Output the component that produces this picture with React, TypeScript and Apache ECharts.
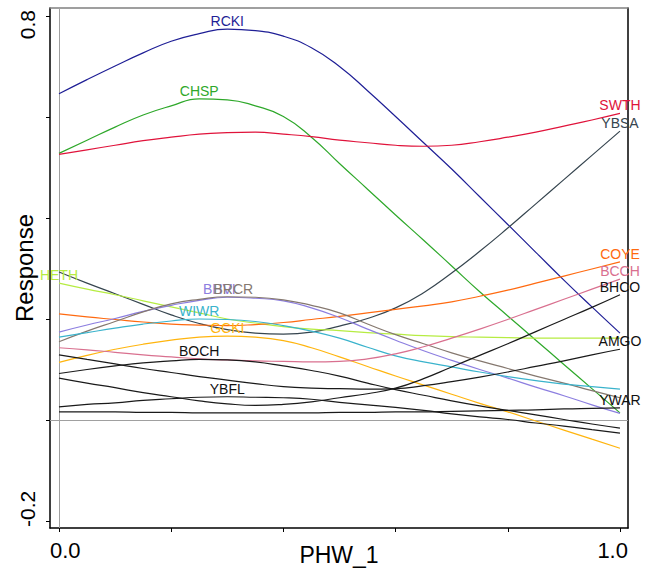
import { useEffect, useRef } from "react";
import * as echarts from "echarts";

// PHW_1 positions at which each response curve is sampled
const phw = [0, 0.05, 0.1, 0.15, 0.2, 0.25, 0.3, 0.35, 0.4, 0.45, 0.5, 0.55, 0.6, 0.65, 0.7, 0.75, 0.8, 0.85, 0.9, 0.95, 1.0];

// Response curves per species
const RCKI = [0.646, 0.674, 0.701, 0.727, 0.75, 0.765, 0.774, 0.771, 0.76, 0.737, 0.7, 0.652, 0.601, 0.549, 0.497, 0.442, 0.387, 0.332, 0.277, 0.224, 0.172];
const CHSP = [0.528, 0.554, 0.58, 0.604, 0.622, 0.636, 0.634, 0.622, 0.601, 0.56, 0.508, 0.457, 0.406, 0.356, 0.305, 0.254, 0.206, 0.158, 0.11, 0.062, 0.014];
const SWTH = [0.526, 0.535, 0.544, 0.553, 0.56, 0.566, 0.569, 0.57, 0.566, 0.561, 0.554, 0.549, 0.544, 0.542, 0.544, 0.551, 0.56, 0.57, 0.582, 0.594, 0.607];
const YBSA = [0.293, 0.271, 0.25, 0.229, 0.208, 0.191, 0.179, 0.172, 0.17, 0.174, 0.186, 0.201, 0.222, 0.252, 0.291, 0.334, 0.38, 0.428, 0.476, 0.524, 0.572];
const HETH = [0.271, 0.259, 0.248, 0.236, 0.224, 0.212, 0.2, 0.192, 0.185, 0.18, 0.177, 0.173, 0.17, 0.167, 0.165, 0.164, 0.163, 0.162, 0.162, 0.162, 0.162];
const COYE = [0.21, 0.204, 0.199, 0.194, 0.19, 0.188, 0.187, 0.189, 0.193, 0.199, 0.205, 0.212, 0.219, 0.226, 0.234, 0.245, 0.257, 0.271, 0.285, 0.299, 0.313];
const BHVI = [0.174, 0.188, 0.201, 0.215, 0.227, 0.237, 0.243, 0.241, 0.236, 0.222, 0.203, 0.18, 0.158, 0.137, 0.118, 0.1, 0.083, 0.065, 0.048, 0.03, 0.013];
const BRCR = [0.155, 0.176, 0.195, 0.214, 0.23, 0.239, 0.244, 0.243, 0.238, 0.227, 0.212, 0.19, 0.169, 0.151, 0.133, 0.117, 0.102, 0.087, 0.073, 0.058, 0.044];
const WIWR = [0.164, 0.173, 0.182, 0.19, 0.196, 0.2, 0.199, 0.195, 0.187, 0.176, 0.162, 0.144, 0.127, 0.115, 0.105, 0.095, 0.086, 0.078, 0.071, 0.066, 0.061];
const GCKI = [0.114, 0.128, 0.14, 0.15, 0.158, 0.164, 0.166, 0.164, 0.157, 0.143, 0.125, 0.106, 0.087, 0.069, 0.051, 0.033, 0.016, -0.002, -0.02, -0.038, -0.056];
const BCCH = [0.143, 0.139, 0.134, 0.129, 0.125, 0.121, 0.119, 0.117, 0.116, 0.115, 0.116, 0.121, 0.131, 0.145, 0.162, 0.18, 0.199, 0.219, 0.239, 0.259, 0.279];
const BOCH = [0.092, 0.1, 0.107, 0.113, 0.117, 0.12, 0.119, 0.115, 0.107, 0.098, 0.087, 0.073, 0.06, 0.049, 0.038, 0.028, 0.019, 0.01, 0.001, -0.008, -0.016];
const AMGO = [0.129, 0.12, 0.111, 0.102, 0.094, 0.086, 0.079, 0.072, 0.066, 0.063, 0.062, 0.061, 0.062, 0.068, 0.076, 0.085, 0.095, 0.106, 0.117, 0.129, 0.14];
const BHCO = [0.083, 0.073, 0.064, 0.054, 0.046, 0.038, 0.032, 0.029, 0.031, 0.036, 0.044, 0.052, 0.063, 0.082, 0.105, 0.128, 0.151, 0.175, 0.199, 0.223, 0.248];
const YBFL = [0.026, 0.031, 0.034, 0.039, 0.042, 0.045, 0.046, 0.045, 0.044, 0.041, 0.035, 0.03, 0.025, 0.019, 0.012, 0.006, 0.001, -0.006, -0.012, -0.019, -0.026];
const YWAR = [0.016, 0.016, 0.016, 0.015, 0.015, 0.014, 0.014, 0.014, 0.014, 0.014, 0.015, 0.015, 0.016, 0.016, 0.017, 0.018, 0.019, 0.02, 0.022, 0.023, 0.024];

// Axis ticks and labelled values
const xTicks = [0, 0.2, 0.4, 0.6, 0.8, 1.0];
const xTickLabels = [0, 1.0];
const yTicks = [-0.2, 0, 0.2, 0.4, 0.6, 0.8];
const yTickLabels = [-0.2, 0.8];

const species = [
  { name: "RCKI", values: RCKI, color: "#1f1f96", label: "#1f1f96" },
  { name: "CHSP", values: CHSP, color: "#2ea82a", label: "#2ea82a" },
  { name: "SWTH", values: SWTH, color: "#e0133b", label: "#e0133b" },
  { name: "YBSA", values: YBSA, color: "#36454f", label: "#36454f" },
  { name: "HETH", values: HETH, color: "#b6ec42", label: "#b6ec42" },
  { name: "COYE", values: COYE, color: "#ff6a10", label: "#ff6a10" },
  { name: "BHVI", values: BHVI, color: "#8c7ee0", label: "#8c7ee0", dx: -8 },
  { name: "BRCR", values: BRCR, color: "#85786f", label: "#85786f", dx: 6 },
  { name: "WIWR", values: WIWR, color: "#3ab3cc", label: "#3ab3cc" },
  { name: "GCKI", values: GCKI, color: "#ffb50f", label: "#ffb50f" },
  { name: "BCCH", values: BCCH, color: "#d9708f", label: "#d9708f" },
  { name: "BOCH", values: BOCH, color: "#1a1a1a", label: "#111111" },
  { name: "AMGO", values: AMGO, color: "#1a1a1a", label: "#111111" },
  { name: "BHCO", values: BHCO, color: "#1a1a1a", label: "#111111" },
  { name: "YBFL", values: YBFL, color: "#1a1a1a", label: "#111111" },
  { name: "YWAR", values: YWAR, color: "#1a1a1a", label: "#111111" },
];

const FONT = "'Liberation Sans', Arial, Helvetica, sans-serif";
const X_MIN = -0.016;
const X_MAX = 1.0143;
const Y_MIN = -0.2139;
const Y_MAX = 0.8158;

export default function App() {
  const ref = useRef<HTMLDivElement>(null);

  useEffect(() => {
    document.body.style.margin = "0";
    if (!ref.current) return;
    const chart = echarts.init(ref.current, undefined, { renderer: "svg" });

    const series: any[] = species.map((s, idx) => ({
      type: "line",
      name: s.name,
      data: phw.map((x, i) => [x, s.values[i]]),
      smooth: 0.5,
      symbol: "none",
      lineStyle: { color: s.color, width: 1.2 },
      itemStyle: { color: s.color },
      z: 3,
      markPoint: {
        silent: true,
        symbol: "circle",
        symbolSize: 0,
        data: [{ type: "max", name: s.name }],
        label: {
          show: true,
          formatter: s.name,
          position: "top",
          distance: 1,
          offset: [s.dx ?? 0, 0],
          color: s.label,
          fontSize: 14,
          fontFamily: FONT,
        },
      },
      ...(idx === 0
        ? {
            markLine: {
              silent: true,
              symbol: "none",
              label: { show: false },
              lineStyle: { color: "#a0a0a0", width: 1, type: "solid" },
              data: [{ xAxis: 0 }, { yAxis: 0 }],
              z: 1,
            },
          }
        : {}),
    }));

    chart.setOption({
      animation: false,
      backgroundColor: "#ffffff",
      grid: {
        left: 50,
        top: 8,
        width: 578,
        height: 520,
        containLabel: false,
        outerBoundsMode: "none",
      },
      xAxis: [
        {
          type: "value",
          position: "bottom",
          min: X_MIN,
          max: X_MAX,
          axisLine: { show: true, onZero: false, lineStyle: { color: "#000", width: 1.5 } },
          axisTick: { show: true, customValues: xTicks, length: 4, lineStyle: { color: "#000" } },
          axisLabel: {
            customValues: xTickLabels,
            formatter: (v: number) => v.toFixed(1),
            alignMinLabel: "left",
            alignMaxLabel: "right",
            padding: [0, -8, 0, -9],
            fontSize: 22,
            color: "#000",
            margin: 11,
            fontFamily: FONT,
          },
          splitLine: { show: false },
          name: "PHW_1",
          nameLocation: "middle",
          nameGap: 15,
          nameMoveOverlap: false,
          nameTextStyle: { fontSize: 23, color: "#000", fontFamily: FONT },
        },
        {
          type: "value",
          position: "top",
          min: X_MIN,
          max: X_MAX,
          axisLine: { show: true, onZero: false, lineStyle: { color: "#808080", width: 1.5 } },
          axisTick: { show: false },
          axisLabel: { show: false },
          splitLine: { show: false },
        },
      ],
      yAxis: [
        {
          type: "value",
          position: "left",
          min: Y_MIN,
          max: Y_MAX,
          axisLine: { show: true, onZero: false, lineStyle: { color: "#000", width: 1.5 } },
          axisTick: { show: true, customValues: yTicks, length: 4, lineStyle: { color: "#000" } },
          axisLabel: {
            customValues: yTickLabels,
            formatter: (v: number) => v.toFixed(1),
            rotate: 90,
            alignMinLabel: "left",
            alignMaxLabel: "right",
            padding: [0, -6, 0, -6],
            fontSize: 21,
            color: "#000",
            margin: 12,
            fontFamily: FONT,
          },
          splitLine: { show: false },
          name: "Response",
          nameLocation: "middle",
          nameRotate: 90,
          nameGap: 14,
          nameMoveOverlap: false,
          nameTextStyle: { fontSize: 24, color: "#000", fontFamily: FONT },
        },
        {
          type: "value",
          position: "right",
          min: Y_MIN,
          max: Y_MAX,
          axisLine: { show: true, onZero: false, lineStyle: { color: "#000", width: 1.5 } },
          axisTick: { show: false },
          axisLabel: { show: false },
          splitLine: { show: false },
        },
      ],
      series,
    });

    return () => chart.dispose();
  }, []);

  return <div ref={ref} style={{ width: 646, height: 570 }} />;
}
